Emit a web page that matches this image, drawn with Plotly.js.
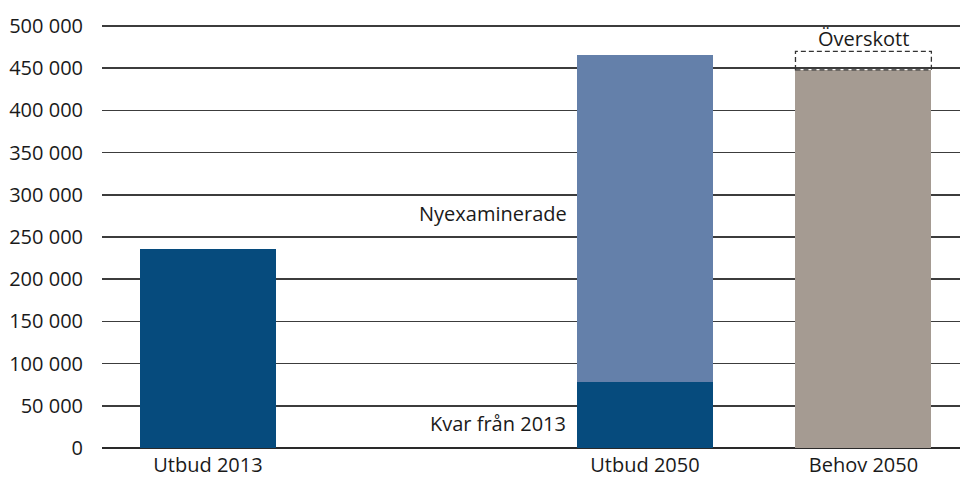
<!DOCTYPE html>
<html>
<head>
<meta charset="utf-8">
<script src="https://cdn.plot.ly/plotly-3.0.1.min.js"></script>
<style>html,body{margin:0;padding:0;background:#fff;}#chart{width:960px;height:481px;}</style>
</head>
<body>
<div id="chart"></div>
<script>
// Data
const categories = ['Utbud 2013', ' ', 'Utbud 2050', 'Behov 2050'];
const kvarValues = [236000, null, 78000, null];        // dark blue (Utbud 2013 / Kvar från 2013)
const nyexValues = [null, null, 388000, null];         // light blue (Nyexaminerade)
const behovValues = [null, null, null, 448000];        // grey (Behov 2050)
const overskottValue = 22000;                          // dashed box above Behov
const yTicks = [0, 50000, 100000, 150000, 200000, 250000, 300000, 350000, 400000, 450000, 500000];
const yTickLabels = ['0', '50 000', '100 000', '150 000', '200 000', '250 000', '300 000', '350 000', '400 000', '450 000', '500 000'];
const labelKvar = 'Kvar från 2013';
const labelNyex = 'Nyexaminerade';
const labelOver = 'Överskott';

const barWidth = 0.622;
const FONT = '"Open Sans", "Noto Sans", sans-serif';
const TXT = '#1a1a1a';
const FS = 20;

const traces = [
  {type: 'bar', x: categories, y: kvarValues, width: barWidth, marker: {color: '#064b7d'}, name: labelKvar, hoverinfo: 'skip'},
  {type: 'bar', x: categories, y: nyexValues, width: barWidth, marker: {color: '#6480aa'}, name: labelNyex, hoverinfo: 'skip'},
  {type: 'bar', x: categories, y: behovValues, width: barWidth, marker: {color: '#a59b92'}, name: 'Behov', hoverinfo: 'skip'}
];

const behovIdx = 3;
const behovTop = behovValues[behovIdx];
const nyIdx = 2;

const layout = {
  width: 960, height: 481,
  margin: {l: 102, r: 0, t: 21, b: 33},
  paper_bgcolor: '#fff', plot_bgcolor: '#fff',
  barmode: 'stack',
  showlegend: false,
  font: {family: FONT, size: FS, color: TXT},
  xaxis: {
    type: 'category', categoryorder: 'array', categoryarray: categories,
    range: [-0.485, 3.442], showgrid: false, zeroline: false, showline: false,
    ticks: '', ticklabelstandoff: 3, tickfont: {family: FONT, size: FS, color: TXT}, fixedrange: true
  },
  yaxis: {
    range: [0, 505924], tickvals: yTicks, ticktext: yTickLabels,
    showgrid: true, gridcolor: '#3c3c3c', gridwidth: 1.6,
    zeroline: true, zerolinecolor: '#2a2a2a', zerolinewidth: 1.8,
    showline: false, ticks: '', ticklabelstandoff: 18,
    tickfont: {family: FONT, size: FS, color: TXT}, fixedrange: true
  },
  shapes: [{
    type: 'rect', xref: 'x', yref: 'y',
    x0: behovIdx - barWidth / 2, x1: behovIdx + barWidth / 2,
    y0: behovTop, y1: behovTop + overskottValue,
    line: {color: '#333', width: 1.3, dash: '5px,3px'}, fillcolor: 'rgba(0,0,0,0)', layer: 'above'
  }],
  annotations: [
    {x: nyIdx - barWidth / 2, y: 278000, xref: 'x', yref: 'y', text: labelNyex, showarrow: false,
     xanchor: 'right', yanchor: 'middle', xshift: -8, font: {family: FONT, size: FS, color: TXT}},
    {x: nyIdx - barWidth / 2, y: 28700, xref: 'x', yref: 'y', text: labelKvar, showarrow: false,
     xanchor: 'right', yanchor: 'middle', xshift: -9, font: {family: FONT, size: FS, color: TXT}},
    {x: behovIdx, y: behovTop + overskottValue, xref: 'x', yref: 'y', text: labelOver, showarrow: false,
     xanchor: 'center', yanchor: 'bottom', yshift: -3, font: {family: FONT, size: FS, color: TXT}}
  ]
};

Plotly.newPlot('chart', traces, layout, {staticPlot: true, displayModeBar: false});
</script>
</body>
</html>
